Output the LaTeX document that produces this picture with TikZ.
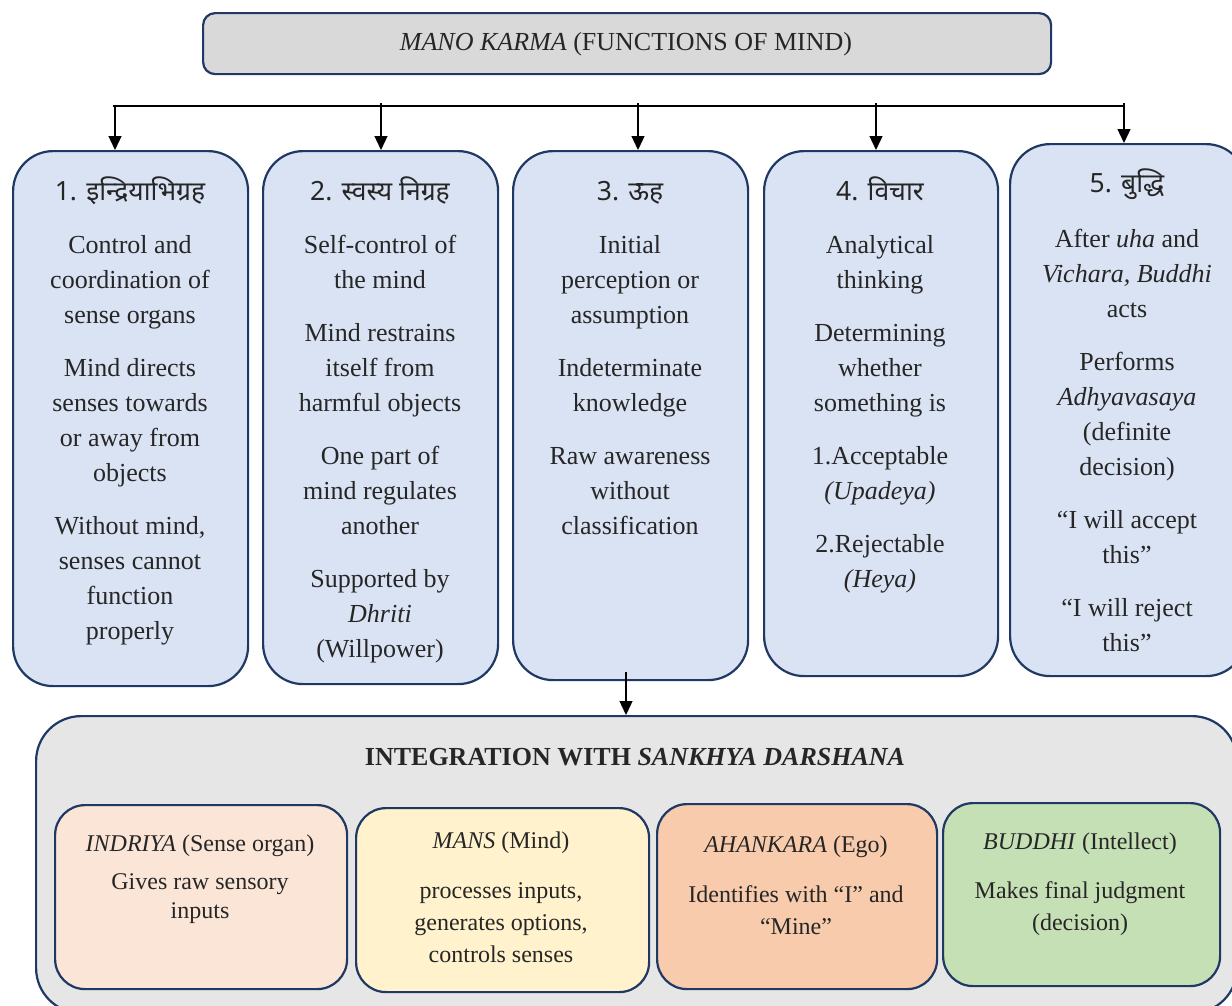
\documentclass[tikz,border=0pt]{standalone}
\usepackage{fontspec}
\setmainfont{Liberation Serif}
\newfontfamily\deva[Script=Devanagari]{Noto Sans}
\usetikzlibrary{arrows.meta}
\definecolor{edge}{HTML}{1F3864}
\definecolor{topfill}{HTML}{D9D9D9}
\definecolor{bluefill}{HTML}{DAE3F3}
\definecolor{intfill}{HTML}{E6E6E6}
\definecolor{peach}{HTML}{FBE5D6}
\definecolor{cream}{HTML}{FFF2CC}
\definecolor{orangefill}{HTML}{F8CBAD}
\definecolor{greenfill}{HTML}{C5E0B4}
\definecolor{ink}{HTML}{262626}
\newcommand{\fs}{\rule{0pt}{20pt}}
\tikzset{
  boxbase/.style={draw=edge, line width=2.2pt, inner sep=0pt, anchor=north west},
  bluebox/.style={boxbase, fill=bluefill, rounded corners=40pt},
  innerbox/.style={boxbase, rounded corners=30pt},
  bodytxt/.style={text=ink, inner sep=0pt, anchor=north, align=center, font=\fontsize{26}{35}\selectfont},
  smalltxt/.style={text=ink, inner sep=0pt, anchor=north, align=center, font=\fontsize{24}{32}\selectfont},
  headtxt/.style={text=ink, inner sep=0pt, anchor=base, font=\deva\fontsize{26.5}{30}\selectfont},
  smallhead/.style={text=ink, inner sep=0pt, anchor=base, font=\fontsize{24}{30}\selectfont},
  arr/.style={line width=1.3pt, -{Triangle[width=13pt,length=14pt]}},
  busline/.style={line width=1.3pt}
}
\begin{document}
\begin{tikzpicture}[x=1pt,y=-1pt]
\useasboundingbox (0,0) rectangle (1232,1005);
\clip (0,0) rectangle (1232,1005);

% title
\node[boxbase, fill=topfill, rounded corners=12pt, minimum width=848pt, minimum height=61pt] (top) at (202,12) {};
\node[text=ink, inner sep=0pt, anchor=base, font=\fontsize{26}{30}\selectfont] (toptxt) at (626,50) {\textit{MANO KARMA} (FUNCTIONS OF MIND)};

% blue boxes
\node[bluebox, minimum width=235pt, minimum height=535pt] (b1) at (12,150) {};
\node[bluebox, minimum width=235pt, minimum height=533pt] (b2) at (262,150) {};
\node[bluebox, minimum width=235pt, minimum height=529pt] (b3) at (512,150) {};
\node[bluebox, minimum width=234pt, minimum height=525pt] (b4) at (763,150) {};
\node[bluebox, minimum width=236pt, minimum height=532pt] (b5) at (1009,143) {};

% bus and arrows
\coordinate (busL) at (113,106);
\coordinate (busR) at (1124,106);
\draw[busline] (busL) -- (busR);
\coordinate (a1) at (115,106);
\coordinate (a2) at (381,103);
\coordinate (a3) at (638,103);
\coordinate (a4) at (876,103);
\coordinate (a5) at (1124,103);
\draw[arr] (a1) -- (a1 |- b1.north);
\draw[arr] (a2) -- (a2 |- b2.north);
\draw[arr] (a3) -- (a3 |- b3.north);
\draw[arr] (a4) -- (a4 |- b4.north);
\draw[arr] (a5) -- (a5 |- b5.north);

% headers
\node[headtxt] (h1) at (130,200) {1. इन्द्रियाभिग्रह};
\node[headtxt] (h2) at (380,200) {2. स्वस्य निग्रह};
\node[headtxt] (h3) at (630,200) {3. ऊह};
\node[headtxt] (h4) at (880,200) {4. विचार};
\node[headtxt] (h5) at (1127,192) {5. बुद्धि};

% body texts
\node[bodytxt] (t1) at (130,233) {\fs Control and\\coordination of\\sense organs\\[18pt]Mind directs\\senses towards\\or away from\\objects\\[18pt]Without mind,\\senses cannot\\function\\properly};
\node[bodytxt] (t2) at (380,233) {\fs Self-control of\\the mind\\[18pt]Mind restrains\\itself from\\harmful objects\\[18pt]One part of\\mind regulates\\another\\[18pt]Supported by\\\textit{Dhriti}\\(Willpower)};
\node[bodytxt] (t3) at (630,233) {\fs Initial\\perception or\\assumption\\[18pt]Indeterminate\\knowledge\\[18pt]Raw awareness\\without\\classification};
\node[bodytxt] (t4) at (880,233) {\fs Analytical\\thinking\\[18pt]Determining\\whether\\something is\\[18pt]1.Acceptable\\\textit{(Upadeya)}\\[18pt]2.Rejectable\\\textit{(Heya)}};
\node[bodytxt] (t5) at (1127,227) {\fs After \textit{uha} and\\\textit{Vichara, Buddhi}\\acts\\[18pt]Performs\\\textit{Adhyavasaya}\\(definite\\decision)\\[18pt]“I will accept\\this”\\[18pt]“I will reject\\this”};

% integration box
\node[boxbase, fill=intfill, rounded corners=45pt, minimum width=1201pt, minimum height=297pt] (integ) at (35,715) {};
\coordinate (d3) at (626,672);
\draw[arr] (d3) -- (d3 |- integ.north);
\node[text=ink, inner sep=0pt, anchor=base, font=\fontsize{26}{30}\selectfont\bfseries] (inttitle) at (635,765) {INTEGRATION WITH \textit{SANKHYA DARSHANA}};

% inner boxes
\node[innerbox, fill=peach, minimum width=292pt, minimum height=184pt] (ia) at (54,804) {};
\node[innerbox, fill=cream, minimum width=293pt, minimum height=184pt] (ib) at (355,807) {};
\node[innerbox, fill=orangefill, minimum width=280pt, minimum height=185pt] (ic) at (656,803) {};
\node[innerbox, fill=greenfill, minimum width=277pt, minimum height=183pt] (id) at (942,802) {};

\node[smallhead] (iah) at (200,851) {\textit{INDRIYA} (Sense organ)};
\node[smallhead] (ibh) at (501,848) {\textit{MANS} (Mind)};
\node[smallhead] (ich) at (796,852) {\textit{AHANKARA} (Ego)};
\node[smallhead] (idh) at (1080,849) {\textit{BUDDHI} (Intellect)};

\node[smalltxt, font=\fontsize{24}{29}\selectfont] (iat) at (200,869) {\fs Gives raw sensory\\inputs};
\node[smalltxt] (ibt) at (501,878) {\fs processes inputs,\\generates options,\\controls senses};
\node[smalltxt] (ict) at (796,882) {\fs Identifies with “I” and\\“Mine”};
\node[smalltxt] (idt) at (1080,878) {\fs Makes final judgment\\(decision)};
\end{tikzpicture}
\end{document}
